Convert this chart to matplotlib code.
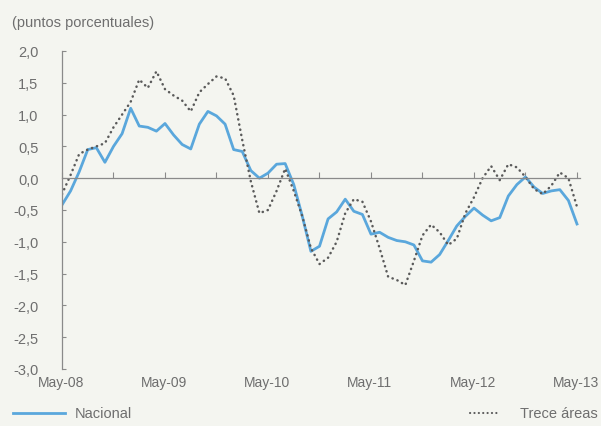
import matplotlib
matplotlib.use("Agg")
import matplotlib.pyplot as plt
from matplotlib.lines import Line2D
from matplotlib.ticker import FuncFormatter, MultipleLocator
from matplotlib.transforms import offset_copy
import numpy as np

plt.rcParams['font.family'] = ['Liberation Sans', 'DejaVu Sans']

# monthly data, May-08 .. May-13
nacional = [-0.42, -0.20, 0.10, 0.45, 0.48, 0.25, 0.50, 0.70, 1.10, 0.82,
            0.80, 0.74, 0.86, 0.68, 0.53, 0.46, 0.85, 1.05, 0.98, 0.85,
            0.45, 0.42, 0.12, 0.00, 0.08, 0.22, 0.23, -0.10, -0.60, -1.15,
            -1.07, -0.64, -0.53, -0.33, -0.52, -0.57, -0.88, -0.85, -0.93, -0.98,
            -1.00, -1.05, -1.30, -1.32, -1.20, -0.98, -0.75, -0.60, -0.47, -0.58,
            -0.67, -0.62, -0.28, -0.10, 0.02, -0.14, -0.24, -0.20, -0.18, -0.35,
            -0.72]
trece = [-0.25, 0.05, 0.38, 0.45, 0.50, 0.55, 0.80, 1.00, 1.20, 1.55,
         1.42, 1.68, 1.40, 1.30, 1.22, 1.05, 1.35, 1.48, 1.60, 1.57,
         1.30, 0.60, -0.05, -0.55, -0.50, -0.20, 0.15, -0.20, -0.60, -1.10,
         -1.35, -1.25, -1.00, -0.55, -0.33, -0.37, -0.68, -1.10, -1.55, -1.60,
         -1.68, -1.30, -0.90, -0.73, -0.85, -1.05, -0.95, -0.55, -0.30, 0.00,
         0.19, -0.03, 0.22, 0.17, 0.02, -0.17, -0.25, -0.12, 0.09, 0.00,
         -0.45]
tick_labels = ["May-08", "May-09", "May-10", "May-11", "May-12", "May-13"]

months = np.arange(len(nacional))
bg = "#f4f5f0"
txt = "#6e6e6e"
axc = "#8a8a8a"
blue = "#5aa7dc"
dots = "#5a5a5a"
dotted = (0, (0.1, 2.0))

fig = plt.figure(figsize=(6.01, 4.27), dpi=100, facecolor=bg)
ax = fig.add_axes([62 / 601, 57 / 427, 518 / 601, 318 / 427], facecolor=bg)

ax.plot(months, nacional, color=blue, linewidth=2.0, solid_joinstyle="round")
ax.plot(months, trece, color=dots, linewidth=1.8, linestyle=dotted,
        dash_capstyle="round")

ax.set_xlim(0, 60.35)
ax.set_ylim(-3, 2)

for s in ["top", "right"]:
    ax.spines[s].set_visible(False)
ax.spines["left"].set_color(axc)
ax.spines["left"].set_linewidth(0.9)
ax.spines["bottom"].set_position(("data", 0))
ax.spines["bottom"].set_color(axc)
ax.spines["bottom"].set_linewidth(0.9)

ax.yaxis.set_major_locator(MultipleLocator(0.5))
ax.yaxis.set_major_formatter(FuncFormatter(lambda v, p: f"{v:.1f}".replace(".", ",")))
ax.tick_params(axis="y", direction="in", length=3, color=axc, labelsize=10.5,
               labelcolor=txt, pad=17)
ax.xaxis.set_major_locator(MultipleLocator(6))
ax.tick_params(axis="x", direction="in", length=4, color=axc, labelbottom=False)

lab_tr = offset_copy(ax.transData, fig=fig, x=0, y=-13, units="dots")
for i, lab in enumerate(tick_labels):
    ax.text(i * 12 - 0.15, -3.0, lab, ha="center", va="center", fontsize=10,
            color=txt, transform=lab_tr)

fig.text(12 / 601, 1 - 23 / 427, "(puntos porcentuales)", fontsize=10.5, color=txt,
         va="center", ha="left")

ly = 1 - 414 / 427
fig.add_artist(Line2D([13 / 601, 65 / 601], [ly, ly], color=blue, linewidth=2.0,
                      transform=fig.transFigure))
fig.text(75 / 601, ly, "Nacional", fontsize=10.5, color=txt, va="center", ha="left")
fig.add_artist(Line2D([470 / 601, 498 / 601], [ly, ly], color=dots, linewidth=1.5,
                      linestyle=dotted, dash_capstyle="round",
                      transform=fig.transFigure))
fig.text(598 / 601, ly, "Trece áreas", fontsize=10.5, color=txt, va="center", ha="right")

fig.savefig("out.png", dpi=100, facecolor=bg)
